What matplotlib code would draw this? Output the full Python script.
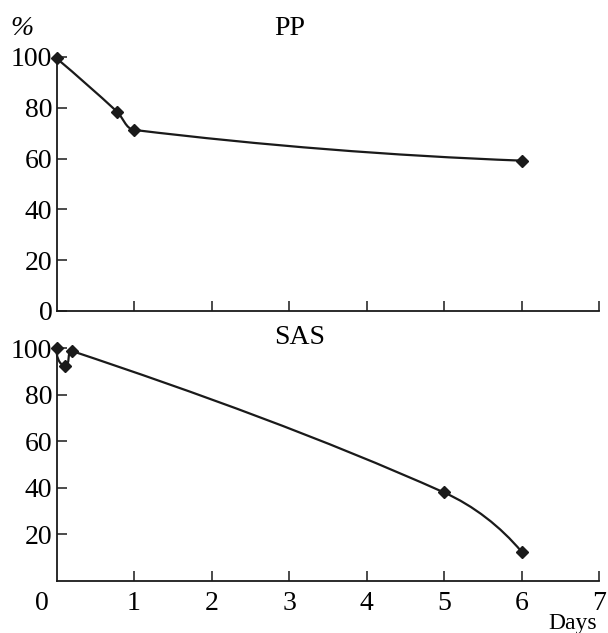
import matplotlib
matplotlib.use("Agg")
import matplotlib.pyplot as plt
from matplotlib.path import Path
from matplotlib.patches import PathPatch
from matplotlib.transforms import ScaledTranslation
import numpy as np

plt.rcParams['font.family'] = ['Liberation Serif', 'DejaVu Serif']

# Data
pp_days = [0.0, 0.78, 1.0, 6.0]
pp_vals = [99.5, 78.5, 71.3, 59.2]
sas_days = [0.0, 0.11, 0.20, 5.0, 6.0]
sas_vals = [99.8, 92.3, 98.7, 38.0, 12.6]
x_ticks = [0, 1, 2, 3, 4, 5, 6, 7]
top_yticks = [0, 20, 40, 60, 80, 100]
bot_yticks = [20, 40, 60, 80, 100]

W, H = 608, 633
fig = plt.figure(figsize=(W / 100, H / 100), dpi=100)

def fx(px):
    return px / W

def fy(py):
    return 1 - py / H

x0, x1 = 56.5, 599
ax1 = fig.add_axes([fx(x0), fy(311), fx(x1) - fx(x0), fy(57) - fy(311)])
ax2 = fig.add_axes([fx(x0), fy(581), fx(x1) - fx(x0), fy(348) - fy(581)])

col = '#1a1a1a'
FS = 20

def unit(v):
    n = np.hypot(v[0], v[1])
    return v / n if n > 0 else v

def smooth_path(ax, xs, ys):
    # smoothing computed in display space, then mapped back to data
    pts = ax.transData.transform(np.column_stack([xs, ys]).astype(float))
    n = len(pts)
    tans = []
    for i in range(n):
        if 0 < i < n - 1:
            tans.append(unit(pts[i + 1] - pts[i - 1]))
        else:
            tans.append(None)
    # end tangents: reflect neighbour tangent about chord
    tans[0] = unit(2 * unit(pts[1] - pts[0]) - (tans[1] if n > 2 else unit(pts[1] - pts[0])))
    tans[-1] = unit(2 * unit(pts[-1] - pts[-2]) - (tans[-2] if n > 2 else unit(pts[-1] - pts[-2])))
    verts = [pts[0]]
    codes = [Path.MOVETO]
    for i in range(n - 1):
        p1, p2 = pts[i], pts[i + 1]
        L = np.hypot(*(p2 - p1)) / 3.0
        c1 = p1 + tans[i] * L
        c2 = p2 - tans[i + 1] * L
        verts += [c1, c2, p2]
        codes += [Path.CURVE4] * 3
    verts = ax.transData.inverted().transform(np.array(verts))
    return Path(verts, codes)

for ax, xs, ys, yt in [(ax1, pp_days, pp_vals, top_yticks),
                       (ax2, sas_days, sas_vals, bot_yticks)]:
    ax.set_xlim(0, 7)
    ax.set_ylim(0, 100)
    ax.add_patch(PathPatch(smooth_path(ax, xs, ys), facecolor='none',
                           edgecolor=col, lw=1.6, clip_on=False, zorder=3))
    ax.plot(xs, ys, linestyle='none', marker='D', markersize=6,
            color=col, clip_on=False, zorder=4)
    for s in ['top', 'right']:
        ax.spines[s].set_visible(False)
    for s in ['left', 'bottom']:
        ax.spines[s].set_linewidth(1.3)
        ax.spines[s].set_color(col)
    ax.set_yticks(yt)
    ax.set_yticklabels([str(v) for v in yt], fontsize=FS)
    ax.tick_params(axis='both', direction='in', length=7, width=1.1,
                   color=col, pad=3, labelcolor='black')
    ax.set_xticks(x_ticks)

ax1.set_xticklabels([''] * len(x_ticks))
ax2.set_xticklabels([str(v) for v in x_ticks], fontsize=FS)
ax2.tick_params(axis='x', pad=7)
for ax in (ax1, ax2):
    ax.get_xticklines()[0].set_visible(False)
    ax.get_xticklines()[1].set_visible(False)
lab0 = ax2.get_xticklabels()[0]
lab0.set_transform(lab0.get_transform() + ScaledTranslation(-14.5 / 100, 0, fig.dpi_scale_trans))

fig.text(fx(290), fy(35), 'PP', fontsize=FS, ha='center', va='baseline')
fig.text(fx(300), fy(344), 'SAS', fontsize=FS, ha='center', va='baseline')
fig.text(fx(22), fy(35), '%', fontsize=FS, ha='center', va='baseline', style='italic')
fig.text(fx(597), fy(629), 'Days', fontsize=17, ha='right', va='baseline')

fig.savefig('out.png', dpi=100)
